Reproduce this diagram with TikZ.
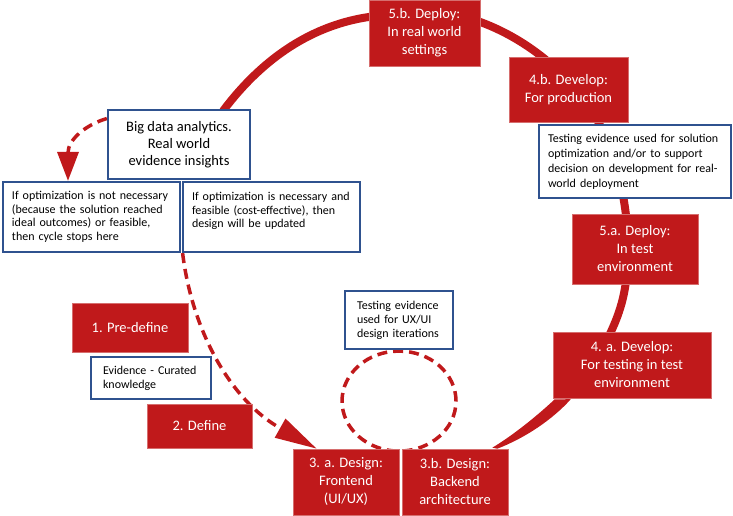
\documentclass[tikz,border=0pt]{standalone}
\usepackage{fontspec}
\setmainfont{Carlito}
\usetikzlibrary{arrows.meta}
\definecolor{bred}{RGB}{192,25,27}
\definecolor{bblue}{RGB}{47,82,143}
\definecolor{redline}{RGB}{214,110,110}
\pgfdeclarelayer{bg}
\pgfsetlayers{bg,main}
\begin{document}
\begin{tikzpicture}[x=1pt,y=-1pt,
  redbox/.style={fill=bred, draw=redline, line width=0.6pt, text=white, align=center,
    font=\fontsize{14.5}{18}\selectfont, inner sep=0pt},
  bluebox/.style={fill=white, draw=bblue, line width=2.2pt, text=black, inner xsep=9pt,
    inner ysep=0pt, font=\fontsize{12}{14}\selectfont},
  cyc/.style={draw=bred, line width=8pt},
  dsh/.style={draw=bred, line width=3.5pt, dash pattern=on 10pt off 6pt},
]
\useasboundingbox (0,0) rectangle (733,516);

% red process boxes
\node[redbox, minimum width=111pt, minimum height=66pt] (d5b) at (424.5,33) {5.b. Deploy:\\In real world\\settings};
\node[redbox, minimum width=119pt, minimum height=65pt] (d4b) at (568.5,89.5) {4.b. Develop:\\For production};
\node[redbox, minimum width=126pt, minimum height=70pt] (d5a) at (635,249) {5.a. Deploy:\\In test\\environment};
\node[redbox, minimum width=158pt, minimum height=66pt] (d4a) at (632,365) {4. a. Develop:\\For testing in test\\environment};
\node[redbox, minimum width=106pt, minimum height=66pt] (d3b) at (455,482) {3.b. Design:\\Backend\\architecture};
\node[redbox, minimum width=106pt, minimum height=66pt] (d3a) at (346,482) {3. a. Design:\\Frontend\\(UI/UX)};
\node[redbox, minimum width=116pt, minimum height=49pt] (d1) at (130,327.5) {1. Pre-define};
\node[redbox, minimum width=105pt, minimum height=44pt] (d2) at (199.5,426) {2. Define};

% blue evidence boxes
\node[bluebox, align=center, minimum width=142pt, minimum height=69pt,
  font=\fontsize{14.5}{17}\selectfont] (bd) at (179,144.5) {Big data analytics.\\Real world\\evidence insights};
\node[bluebox, align=left, text width=159pt, minimum height=70pt,
  font=\fontsize{12}{13.5}\selectfont] (nn) at (91.5,217) {If optimization is not necessary\\(because the solution reached\\ideal outcomes) or feasible,\\then cycle stops here};
\node[bluebox, align=left, text width=159pt, minimum height=70pt,
  font=\fontsize{12}{13.5}\selectfont] (nc) at (271.5,217) {If optimization is necessary and\\feasible (cost-effective), then\\design will be updated\\\mbox{}};
\node[bluebox, align=left, text width=174pt, minimum height=73pt,
  font=\fontsize{12}{15}\selectfont] (tr) at (635,161.5) {Testing evidence used for solution\\optimization and/or to support\\decision on development for real-\\world deployment};
\node[bluebox, align=left, inner xsep=12pt, text width=84pt, minimum height=58pt] (tux) at (399,320) {Testing evidence\\used for UX/UI\\design iterations};
\node[bluebox, align=left, inner xsep=12pt, text width=96pt, minimum height=42pt] (ev) at (151,378) {Evidence - Curated\\knowledge};

\begin{pgfonlayer}{bg}
  % main cycle
  \draw[cyc] ([xshift=44pt,yshift=-2pt]bd.north) .. controls (265,55) and (315,25) .. ([yshift=16pt]d5b.west)
    .. controls (420,8) and (455,12) .. ([yshift=11pt]d5b.east)
    .. controls (535,42) and (580,85) .. ([xshift=31.5pt,yshift=-3pt]d4b.south)
    .. controls (615,155) and (628,200) .. ([xshift=-7pt]d5a.center)
    .. controls (628,290) and (620,312) .. ([xshift=-21pt]d4a.north)
    .. controls (600,356) and (585,385) .. ([xshift=12pt]d4a.south west);
  % tapered end into 3.b
  \fill[bred] ([xshift=2pt,yshift=-1pt]d4a.south west) .. controls (537,416) and (512,436) .. ([xshift=-16pt,yshift=1pt]d3b.north east)
    -- ([xshift=-11pt]d3b.north east) .. controls (525,438) and (552,420) .. ([xshift=18pt,yshift=-1pt]d4a.south west) -- cycle;
  % dashed feedback arrows
  \draw[dsh, -{Triangle[width=21pt,length=29pt]}] ([yshift=26pt]bd.west) .. controls (85,125) and (68,140) .. ([xshift=-23.5pt]nn.north);
  \draw[dsh, -{Triangle[width=21pt,length=42pt]}] ([xshift=1.5pt]nn.south east) .. controls (192,330) and (230,400) .. ([xshift=24pt]d3a.north west);
  % UX/UI iteration loop
  \draw[dsh] ([yshift=-51pt]tux.south) ellipse [x radius=57pt, y radius=50pt];
\end{pgfonlayer}
\end{tikzpicture}
\end{document}
